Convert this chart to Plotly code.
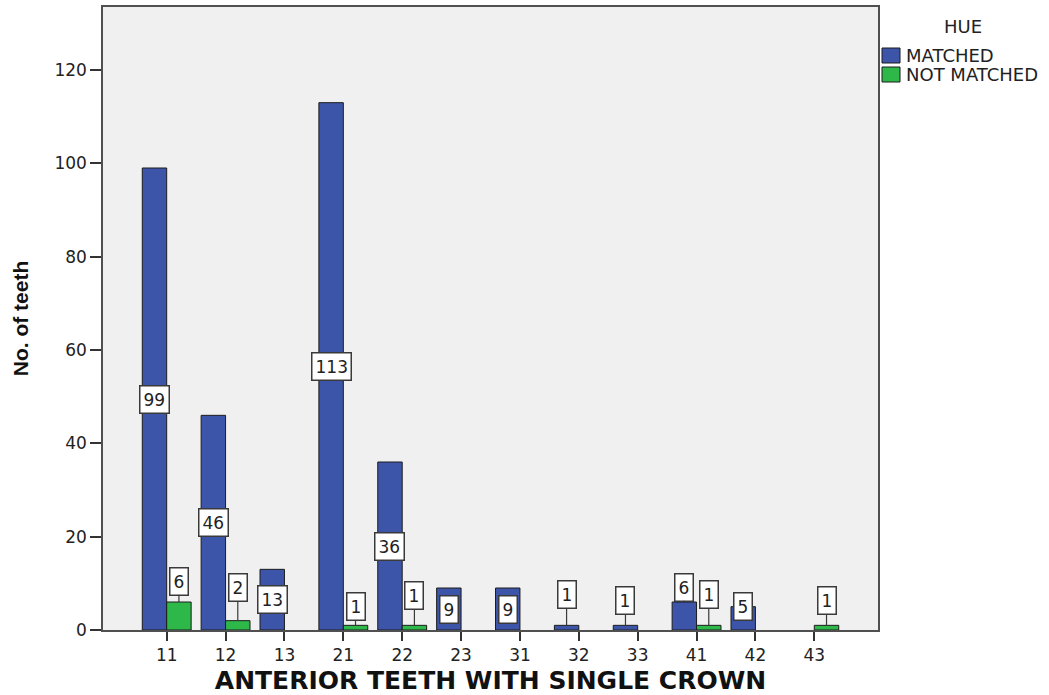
import plotly.graph_objects as go

# Teeth counts per tooth number, split by shade (hue) match
teeth = ["11", "12", "13", "21", "22", "23", "31", "32", "33", "41", "42", "43"]
matched = [99, 46, 13, 113, 36, 9, 9, 1, 1, 6, 5, 0]
not_matched = [6, 2, 0, 1, 1, 0, 0, 0, 0, 1, 0, 1]
series_names = ["MATCHED", "NOT MATCHED"]
legend_title = "HUE"

BLUE = "#3d55a8"
GREEN = "#2eb84a"
FONT = "DejaVu Sans"
BARGAP = 0.17

# Vertical pixel offset of value boxes placed above short bars (absent -> centred in bar)
label_lift = {
    ("m", "32"): -31, ("m", "33"): -25, ("m", "41"): -15, ("m", "42"): 0,
    ("n", "11"): -21, ("n", "12"): -33, ("n", "21"): -19, ("n", "22"): -30,
    ("n", "41"): -31, ("n", "43"): -25,
}

fig = go.Figure()
for name, vals, col in ((series_names[0], matched, BLUE), (series_names[1], not_matched, GREEN)):
    fig.add_bar(x=teeth, y=[v if v else None for v in vals], name=name, showlegend=False,
                marker=dict(color=col, line=dict(color="#1c1c1c", width=1)))

half = (1 - BARGAP) / 4  # centre offset of each bar within its group
for key, series, sign in (("m", matched, -1), ("n", not_matched, 1)):
    for i, (cat, v) in enumerate(zip(teeth, series)):
        if v == 0:
            continue
        common = dict(
            x=i + sign * half, xref="x", yref="y", text=str(v),
            font=dict(family=FONT, size=17, color="#222"),
            bgcolor="white", bordercolor="#3a3a3a", borderwidth=1.5, borderpad=3,
        )
        lift = label_lift.get((key, cat))
        if lift is None:
            fig.add_annotation(y=v / 2, showarrow=False, **common)
        else:
            fig.add_annotation(y=v, showarrow=True, arrowhead=0, arrowwidth=1.2,
                               arrowcolor="#3a3a3a", ax=0, ay=lift, **common)

# Legend drawn to the right of the plot area (paper coordinates)
def px_x(p):
    return (p - 103) / 775

def px_y(p):
    return (630 - p) / 623

fig.add_annotation(x=px_x(963), y=px_y(27), xref="paper", yref="paper", text=legend_title,
                   xanchor="center", yanchor="middle", showarrow=False,
                   font=dict(family=FONT, size=18, color="#222"))
for (name, col), top in zip(((series_names[0], BLUE), (series_names[1], GREEN)), (48, 67)):
    fig.add_shape(type="rect", xref="paper", yref="paper",
                  x0=px_x(882), x1=px_x(900), y0=px_y(top), y1=px_y(top + 15),
                  fillcolor=col, line=dict(color="#1c1c1c", width=1))
    fig.add_annotation(x=px_x(904), y=px_y(top + 7.5), xref="paper", yref="paper", text=name,
                       xanchor="left", yanchor="middle", showarrow=False,
                       font=dict(family=FONT, size=18, color="#222"))

fig.update_layout(
    width=1049, height=695,
    margin=dict(l=103, r=171, t=7, b=65),
    paper_bgcolor="white", plot_bgcolor="#f0f0f0",
    barmode="group", bargap=BARGAP, bargroupgap=0,
    font=dict(family=FONT, size=16, color="#222"),
    xaxis=dict(
        type="category", range=[-1.082, len(teeth) + 0.082], automargin=False,
        showline=True, mirror=True, linecolor="#505050", linewidth=1.5,
        ticks="outside", ticklen=9, tickcolor="#333", tickwidth=1.5,
        tickfont=dict(size=17), showgrid=False,
        title=dict(text="<b>ANTERIOR TEETH WITH SINGLE CROWN</b>", font=dict(size=25, color="#111"), standoff=9),
    ),
    yaxis=dict(
        range=[0, 133.5], tickvals=[0, 20, 40, 60, 80, 100, 120], automargin=False,
        showline=True, mirror=True, linecolor="#505050", linewidth=1.5,
        ticks="outside", ticklen=11, tickcolor="#333", tickwidth=1.5,
        tickfont=dict(size=17), showgrid=False, zeroline=False,
        title=dict(text="<b>No. of teeth</b>", font=dict(family="Liberation Sans", size=21, color="#111"), standoff=20),
    ),
)

fig.write_html("out.html")
